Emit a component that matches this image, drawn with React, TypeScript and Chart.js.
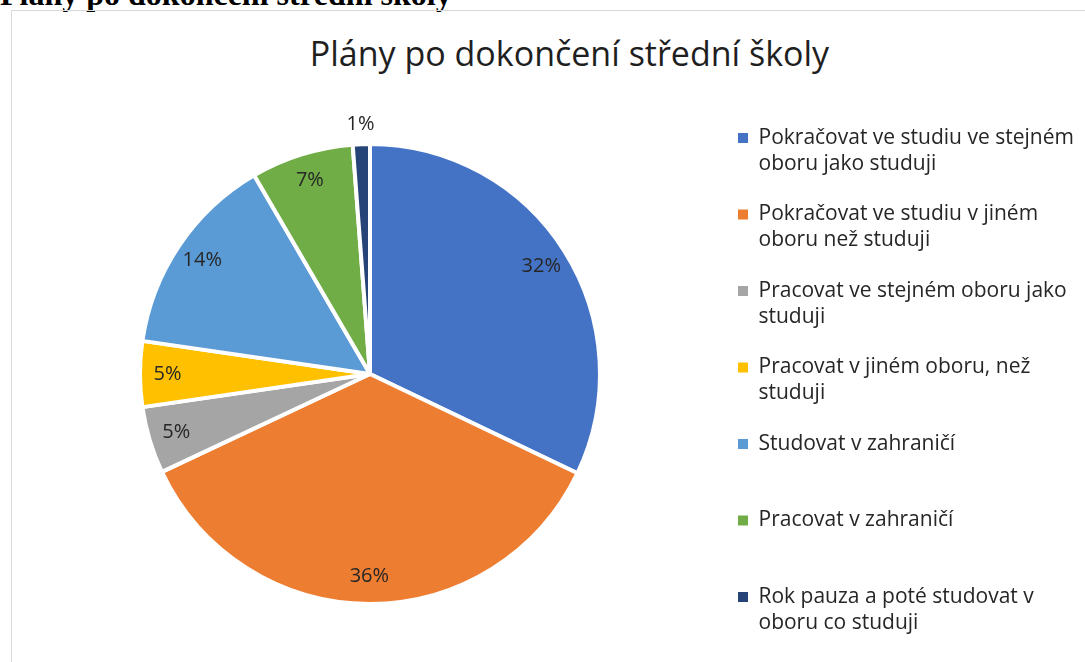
import React, { useEffect, useRef } from "react";
import { Chart, registerables } from "chart.js";

Chart.register(...registerables);

const pageHeading = "Plány po dokončení střední školy";
const chartTitle = "Plány po dokončení střední školy";

const categories: string[][] = [
  ["Pokračovat ve studiu ve stejném", "oboru jako studuji"],
  ["Pokračovat ve studiu v jiném", "oboru než studuji"],
  ["Pracovat ve stejném oboru jako", "studuji"],
  ["Pracovat v jiném oboru, než", "studuji"],
  ["Studovat v zahraničí", ""],
  ["Pracovat v zahraničí", ""],
  ["Rok pauza a poté studovat v", "oboru co studuji"],
];

const values: number[] = [32.1, 35.9, 4.7, 4.6, 14.3, 7.2, 1.2];

const colors: string[] = ["#4472C4", "#ED7D31", "#A5A5A5", "#FFC000", "#5B9BD5", "#70AD47", "#264478"];

const FONT = "'Open Sans', 'Noto Sans', sans-serif";
const LEGEND_SIZE = 21;
const LEGEND_LINE = 26;
const LEGEND_PAD = 24.5;
const BOX = 10;
const CANVAS_W = 1100;
const CANVAS_H = 700;
const LEGEND_X = 726; // left of legend swatches (canvas coords)

const sliceLabels = {
  id: "sliceLabels",
  afterDatasetsDraw(chart: any) {
    const ctx = chart.ctx;
    const meta = chart.getDatasetMeta(0);
    const data = chart.data.datasets[0].data as number[];
    const total = data.reduce((a, b) => a + b, 0);
    ctx.save();
    ctx.font = `20px ${FONT}`;
    ctx.fillStyle = "#262626";
    ctx.textAlign = "center";
    ctx.textBaseline = "middle";
    meta.data.forEach((arc: any, i: number) => {
      const { x, y, startAngle, endAngle, outerRadius } = arc.getProps(
        ["x", "y", "startAngle", "endAngle", "outerRadius"],
        true
      );
      const share = data[i] / total;
      const mid = (startAngle + endAngle) / 2;
      const r = share < 0.02 ? outerRadius + 20 : outerRadius * 0.88;
      ctx.fillText(Math.round(share * 100) + "%", x + Math.cos(mid) * r, y + Math.sin(mid) * r);
    });
    ctx.restore();
  },
};

function legendRightPadding(): number {
  const c = document.createElement("canvas").getContext("2d")!;
  c.font = `${LEGEND_SIZE}px ${FONT}`;
  let maxW = 0;
  categories.forEach((lines) => {
    const longest = lines.reduce((a, b) => (a.length > b.length ? a : b));
    maxW = Math.max(maxW, c.measureText(longest).width);
  });
  const colWidth = BOX + LEGEND_SIZE / 2 + maxW;
  const legendRight = LEGEND_X + colWidth + 10;
  return CANVAS_W - legendRight;
}

export default function App() {
  const ref = useRef<HTMLCanvasElement>(null);

  useEffect(() => {
    if (!ref.current) return;
    const pr = legendRightPadding();
    const legendLeft = LEGEND_X - LEGEND_PAD;
    const pieCenterX = 358;
    const pl = 2 * pieCenterX - legendLeft;
    const chart = new Chart(ref.current, {
      type: "pie",
      data: {
        labels: categories as any,
        datasets: [
          {
            data: values,
            backgroundColor: colors,
            borderColor: "#ffffff",
            borderWidth: 4,
            radius: 230,
          } as any,
        ],
      },
      options: {
        animation: false,
        responsive: false,
        maintainAspectRatio: false,
        events: [],
        layout: { padding: { left: pl, right: pr, top: 66, bottom: 40 } },
        plugins: {
          tooltip: { enabled: false },
          title: { display: false },
          legend: {
            position: "right",
            align: "start",
            title: { display: true, text: "", font: { size: 10, lineHeight: 1 }, padding: { top: 0, bottom: 16 } },
            labels: {
              boxWidth: BOX,
              boxHeight: BOX,
              padding: LEGEND_PAD,
              color: "#262626",
              font: { family: FONT, size: LEGEND_SIZE, lineHeight: LEGEND_LINE / LEGEND_SIZE },
              generateLabels: (ch: any) => {
                const base = (Chart as any).overrides.pie.plugins.legend.labels.generateLabels(ch);
                return base.map((it: any) => ({ ...it, lineWidth: 0 }));
              },
            },
          },
        },
      },
      plugins: [sliceLabels],
    });
    return () => chart.destroy();
  }, []);

  return (
    <div style={{ position: "absolute", left: 0, top: 0, width: 1085, height: 662, overflow: "hidden", background: "#fff" }}>
      <div
        style={{
          position: "absolute",
          left: 0,
          top: -21.8,
          font: "bold 32px 'Liberation Serif', 'Times New Roman', serif",
          lineHeight: 1,
          whiteSpace: "nowrap",
          color: "#000",
        }}
      >
        {pageHeading}
      </div>
      <div
        style={{
          position: "absolute",
          left: 11,
          top: 10,
          width: 1200,
          height: 800,
          border: "1px solid #d9d9d9",
          boxSizing: "border-box",
        }}
      />
      <div
        style={{
          position: "absolute",
          left: 0,
          width: 1139,
          top: 36,
          textAlign: "center",
          font: `34px ${FONT}`,
          lineHeight: 1,
          whiteSpace: "nowrap",
          color: "#1f1f1f",
        }}
      >
        {chartTitle}
      </div>
      <canvas
        ref={ref}
        width={CANVAS_W}
        height={CANVAS_H}
        style={{ position: "absolute", left: 12, top: 11, width: CANVAS_W, height: CANVAS_H }}
      />
    </div>
  );
}
